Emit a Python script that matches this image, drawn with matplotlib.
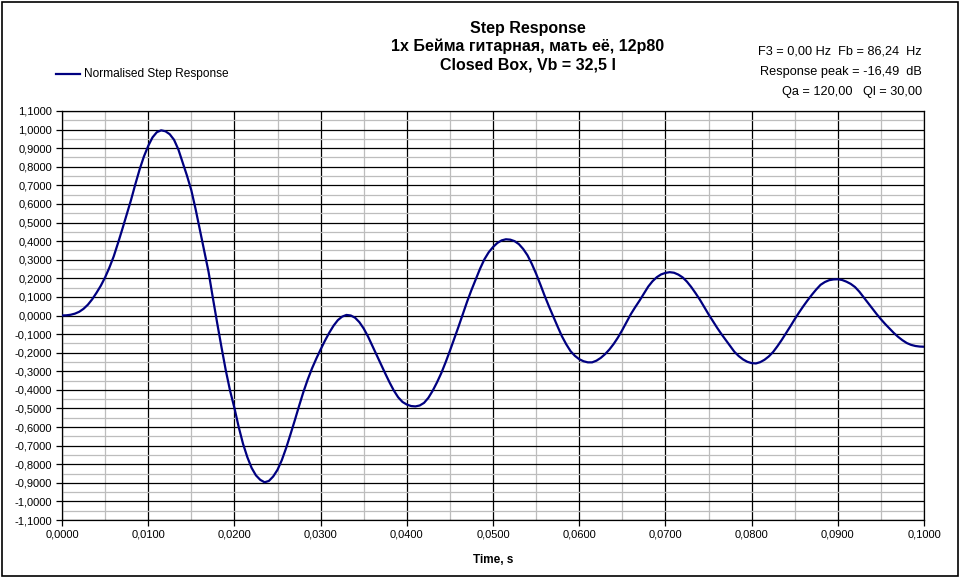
import matplotlib
matplotlib.use("Agg")
import matplotlib.pyplot as plt
from matplotlib.patches import Rectangle
from matplotlib.ticker import MultipleLocator

plt.rcParams['font.family'] = ['Liberation Sans', 'DejaVu Sans']

time_s = [
    0.0000, 0.0005, 0.0010, 0.0015, 0.0020, 0.0025, 0.0030, 0.0035, 0.0040, 0.0045,
    0.0050, 0.0055, 0.0060, 0.0065, 0.0070, 0.0075, 0.0080, 0.0085, 0.0090, 0.0095,
    0.0100, 0.0105, 0.0110, 0.0115, 0.0120, 0.0125, 0.0130, 0.0135, 0.0140, 0.0145,
    0.0150, 0.0155, 0.0160, 0.0165, 0.0170, 0.0175, 0.0180, 0.0185, 0.0190, 0.0195,
    0.0200, 0.0205, 0.0210, 0.0215, 0.0220, 0.0225, 0.0230, 0.0235, 0.0240, 0.0245,
    0.0250, 0.0255, 0.0260, 0.0265, 0.0270, 0.0275, 0.0280, 0.0285, 0.0290, 0.0295,
    0.0300, 0.0305, 0.0310, 0.0315, 0.0320, 0.0325, 0.0330, 0.0335, 0.0340, 0.0345,
    0.0350, 0.0355, 0.0360, 0.0365, 0.0370, 0.0375, 0.0380, 0.0385, 0.0390, 0.0395,
    0.0400, 0.0405, 0.0410, 0.0415, 0.0420, 0.0425, 0.0430, 0.0435, 0.0440, 0.0445,
    0.0450, 0.0455, 0.0460, 0.0465, 0.0470, 0.0475, 0.0480, 0.0485, 0.0490, 0.0495,
    0.0500, 0.0505, 0.0510, 0.0515, 0.0520, 0.0525, 0.0530, 0.0535, 0.0540, 0.0545,
    0.0550, 0.0555, 0.0560, 0.0565, 0.0570, 0.0575, 0.0580, 0.0585, 0.0590, 0.0595,
    0.0600, 0.0605, 0.0610, 0.0615, 0.0620, 0.0625, 0.0630, 0.0635, 0.0640, 0.0645,
    0.0650, 0.0655, 0.0660, 0.0665, 0.0670, 0.0675, 0.0680, 0.0685, 0.0690, 0.0695,
    0.0700, 0.0705, 0.0710, 0.0715, 0.0720, 0.0725, 0.0730, 0.0735, 0.0740, 0.0745,
    0.0750, 0.0755, 0.0760, 0.0765, 0.0770, 0.0775, 0.0780, 0.0785, 0.0790, 0.0795,
    0.0800, 0.0805, 0.0810, 0.0815, 0.0820, 0.0825, 0.0830, 0.0835, 0.0840, 0.0845,
    0.0850, 0.0855, 0.0860, 0.0865, 0.0870, 0.0875, 0.0880, 0.0885, 0.0890, 0.0895,
    0.0900, 0.0905, 0.0910, 0.0915, 0.0920, 0.0925, 0.0930, 0.0935, 0.0940, 0.0945,
    0.0950, 0.0955, 0.0960, 0.0965, 0.0970, 0.0975, 0.0980, 0.0985, 0.0990, 0.0995,
    0.1000]
response = [
    0.000, 0.001, 0.004, 0.010, 0.020, 0.036, 0.058, 0.087, 0.122, 0.160,
    0.205, 0.258, 0.318, 0.390, 0.465, 0.543, 0.620, 0.705, 0.785, 0.855,
    0.912, 0.958, 0.986, 0.996, 0.991, 0.975, 0.945, 0.893, 0.822, 0.752,
    0.674, 0.572, 0.460, 0.348, 0.235, 0.095, -0.040, -0.170, -0.295, -0.405,
    -0.497, -0.600, -0.690, -0.762, -0.820, -0.860, -0.884, -0.897, -0.890, -0.866,
    -0.830, -0.778, -0.713, -0.640, -0.565, -0.487, -0.412, -0.345, -0.285, -0.232,
    -0.183, -0.136, -0.093, -0.055, -0.025, -0.006, 0.003, 0.000, -0.012, -0.036,
    -0.070, -0.113, -0.163, -0.212, -0.262, -0.312, -0.360, -0.404, -0.440, -0.465,
    -0.479, -0.487, -0.489, -0.484, -0.470, -0.443, -0.405, -0.360, -0.310, -0.252,
    -0.190, -0.125, -0.060, 0.008, 0.075, 0.137, 0.195, 0.252, 0.302, 0.340,
    0.368, 0.390, 0.404, 0.410, 0.408, 0.400, 0.384, 0.358, 0.324, 0.278,
    0.225, 0.166, 0.105, 0.048, -0.006, -0.060, -0.112, -0.155, -0.192, -0.217,
    -0.235, -0.246, -0.252, -0.252, -0.243, -0.228, -0.208, -0.183, -0.153, -0.118,
    -0.078, -0.035, 0.008, 0.045, 0.080, 0.118, 0.155, 0.184, 0.206, 0.221,
    0.229, 0.233, 0.230, 0.220, 0.205, 0.182, 0.153, 0.120, 0.085, 0.046,
    0.007, -0.030, -0.066, -0.100, -0.132, -0.164, -0.195, -0.218, -0.236, -0.249,
    -0.256, -0.258, -0.251, -0.238, -0.220, -0.196, -0.165, -0.131, -0.095, -0.058,
    -0.020, 0.016, 0.050, 0.082, 0.112, 0.140, 0.165, 0.180, 0.190, 0.194,
    0.195, 0.191, 0.182, 0.170, 0.153, 0.128, 0.098, 0.068, 0.038, 0.008,
    -0.020, -0.046, -0.070, -0.094, -0.115, -0.133, -0.148, -0.158, -0.164, -0.167,
    -0.168]

x_ticks = [0.00, 0.01, 0.02, 0.03, 0.04, 0.05, 0.06, 0.07, 0.08, 0.09, 0.10]
y_ticks = [-1.1, -1.0, -0.9, -0.8, -0.7, -0.6, -0.5, -0.4, -0.3, -0.2, -0.1, 0.0,
           0.1, 0.2, 0.3, 0.4, 0.5, 0.6, 0.7, 0.8, 0.9, 1.0, 1.1]

def comma(v):
    s = f"{round(v, 4) + 0.0:.4f}".replace('.', ',')
    return "0,0000" if s == "-0,0000" else s

x_labels = [comma(v) for v in x_ticks]
y_labels = [comma(v) for v in y_ticks]

title_lines = ["Step Response", "1x Бейма гитарная, мать её, 12р80", "Closed Box, Vb = 32,5 l"]
info_lines = ["F3 = 0,00 Hz  Fb = 86,24  Hz", "Response peak = -16,49  dB", "Qa = 120,00   Ql = 30,00"]
legend_label = "Normalised Step Response"
xlabel = "Time, s"

W, H = 959, 578
fig = plt.figure(figsize=(W / 100, H / 100), dpi=100)
fig.patch.set_facecolor('white')

ax = fig.add_axes([62 / W, (H - 520) / H, 862 / W, 409 / H])
ax.set_xlim(0, 0.1)
ax.set_ylim(-1.1, 1.1)

ax.xaxis.set_minor_locator(MultipleLocator(0.005))
ax.yaxis.set_minor_locator(MultipleLocator(0.05))
ax.grid(which='minor', color='#bdbdbd', linewidth=0.9, zorder=0)
ax.grid(which='major', color='black', linewidth=0.9, zorder=1)
ax.set_axisbelow(True)

ax.set_xticks(x_ticks)
ax.set_xticklabels(x_labels, fontsize=8)
ax.set_yticks(y_ticks)
ax.set_yticklabels(y_labels, fontsize=8)
ax.tick_params(which='major', direction='out', length=4, width=0.9, color='black', pad=3)
ax.tick_params(which='minor', length=0)
for sp in ax.spines.values():
    sp.set_color('black')
    sp.set_linewidth(0.9)

ax.plot(time_s, response, color='#000080', linewidth=1.6, zorder=3,
        solid_joinstyle='round')

ax.set_xlabel(xlabel, fontsize=8.5, fontweight='bold', labelpad=10)

# title
for i, t in enumerate(title_lines):
    fig.text(528 / W, 1 - (28 + 18.5 * i) / H, t, ha='center', va='center',
             fontsize=11.5, fontweight='bold')

# info text on the right
for i, t in enumerate(info_lines):
    fig.text(922 / W, 1 - (51 + 20.5 * i) / H, t, ha='right', va='center', fontsize=9.2)

# legend
fig.lines.append(plt.Line2D([56 / W, 80 / W], [1 - 74 / H, 1 - 74 / H],
                            transform=fig.transFigure, color='#000080', linewidth=1.6))
fig.text(84 / W, 1 - 74 / H, legend_label, ha='left', va='center', fontsize=8.6)

# outer frame
fig.patches.append(Rectangle((1.5 / W, 2.5 / H), 956 / W, 574 / H, transform=fig.transFigure,
                             fill=False, edgecolor='black', linewidth=1.2))

fig.savefig('out.png', dpi=100)
